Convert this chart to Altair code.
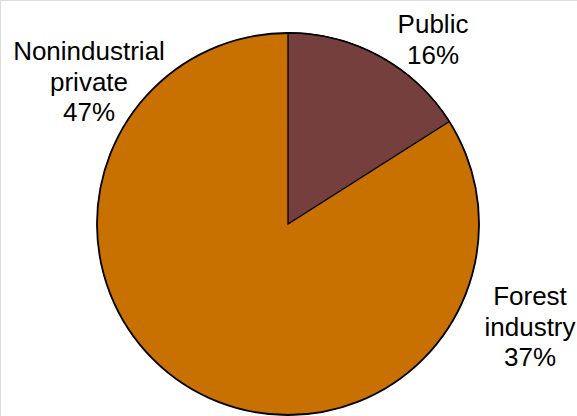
import altair as alt
import pandas as pd

categories = ["Public", "Forest industry", "Nonindustrial private"]
shares = [16, 37, 47]
label_lines = ["Public\n16%", "Forest\nindustry\n37%", "Nonindustrial\nprivate\n47%"]
colors = ["#743F3D", "#C87000", "#C87000"]

df = pd.DataFrame({
    "category": categories,
    "share": shares,
    "label": label_lines,
    "order": list(range(len(categories))),
})

CX, CY, R = 288, 224, 191
color_scale = alt.Scale(domain=categories, range=colors)

base = alt.Chart(df)

fills = base.mark_arc(radius=R, strokeWidth=1).encode(
    theta=alt.Theta("share:Q", stack=True),
    order=alt.Order("order:Q"),
    color=alt.Color("category:N", scale=color_scale, legend=None),
    stroke=alt.Stroke("category:N", scale=color_scale, legend=None),
    x=alt.value(CX), y=alt.value(CY),
)

outline = base.mark_arc(radius=R, fillOpacity=0, stroke="black", strokeWidth=1.8).encode(
    theta=alt.Theta("sum(share):Q"),
    x=alt.value(CX), y=alt.value(CY),
)

public = base.mark_arc(radius=R, stroke="black", strokeWidth=1.3).encode(
    theta=alt.Theta("share:Q", stack=True),
    order=alt.Order("order:Q"),
    color=alt.Color("category:N", scale=color_scale, legend=None),
    opacity=alt.condition(alt.datum.category == "Public", alt.value(1), alt.value(0)),
    x=alt.value(CX), y=alt.value(CY),
)

label_pos = {"Public": (433, 33), "Forest industry": (530, 305), "Nonindustrial private": (89, 60)}
texts = []
for cat, (lx, ly) in label_pos.items():
    texts.append(
        base.transform_filter(alt.datum.category == cat)
        .mark_text(font="Liberation Sans", fontSize=26, lineHeight=30.5, align="center",
                   baseline="alphabetic", color="black", lineBreak="\n")
        .encode(text="label:N", x=alt.value(lx), y=alt.value(ly))
    )

chart = alt.layer(fills, outline, public, *texts).properties(
    width=577, height=416, autosize=alt.AutoSizeParams(type="none"), padding=0
).configure_view(stroke=None).configure(background="white")

chart.save("out.html", embed_options={"renderer": "svg", "actions": False})
